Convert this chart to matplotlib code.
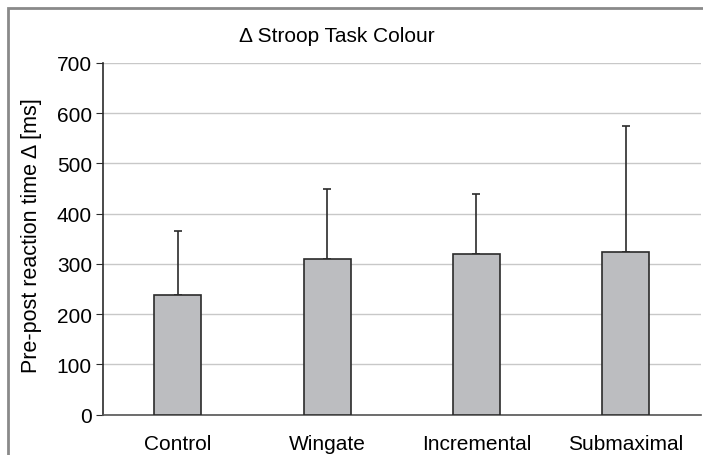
import matplotlib.pyplot as plt
from matplotlib.patches import Rectangle

# Data
groups = ["Control", "Wingate", "Incremental", "Submaximal"]
means = [237, 310, 320, 324]
sd_upper = [128, 139, 119, 251]
y_ticks = [0, 100, 200, 300, 400, 500, 600, 700]

plt.rcParams['font.family'] = ['Liberation Sans', 'DejaVu Sans']

fig = plt.figure(figsize=(7.03, 4.56), dpi=100)
ax = fig.add_axes([103 / 703, 40.5 / 456, 597.5 / 703, 351.5 / 456])

x = list(range(len(groups)))
ax.bar(x, means, width=0.315, color="#bcbdc0", edgecolor="#2b2b2b",
       linewidth=1.2, zorder=3)
ax.errorbar(x, means, yerr=[[0] * len(means), sd_upper], fmt="none",
            ecolor="#2b2b2b", elinewidth=1.2, capsize=3, capthick=1.2, zorder=2)

ax.set_xlim(-0.5, 3.5)
ax.set_ylim(0, 700)
ax.set_yticks(y_ticks)
ax.set_xticks(x)
ax.set_xticklabels(groups)
ax.tick_params(axis="y", labelsize=15, length=5, color="#2b2b2b", pad=3)
ax.tick_params(axis="x", labelsize=15, length=0, pad=14)
ax.yaxis.grid(True, color="#c8c8c8", linewidth=1.0, zorder=0)
ax.set_axisbelow(True)

for s in ["top", "right"]:
    ax.spines[s].set_visible(False)
ax.spines["left"].set_color("#2b2b2b")
ax.spines["bottom"].set_color("#555555")
ax.spines["left"].set_linewidth(1.2)
ax.spines["bottom"].set_linewidth(1.2)

ax.set_ylabel("Pre-post reaction time Δ [ms]", fontsize=15.5)
ax.yaxis.set_label_coords(-0.102, 0.513)
fig.text(337 / 703, 1 - 37 / 456, "Δ Stroop Task Colour", fontsize=15,
         ha="center", va="center")

# outer frame
fig.patches.append(Rectangle((8 / 703, -0.1), 1.2, 1 - 9 / 456 + 0.1,
                             transform=fig.transFigure, fill=False,
                             edgecolor="#8a8a8a", linewidth=2))

fig.savefig("out.png", dpi=100)
